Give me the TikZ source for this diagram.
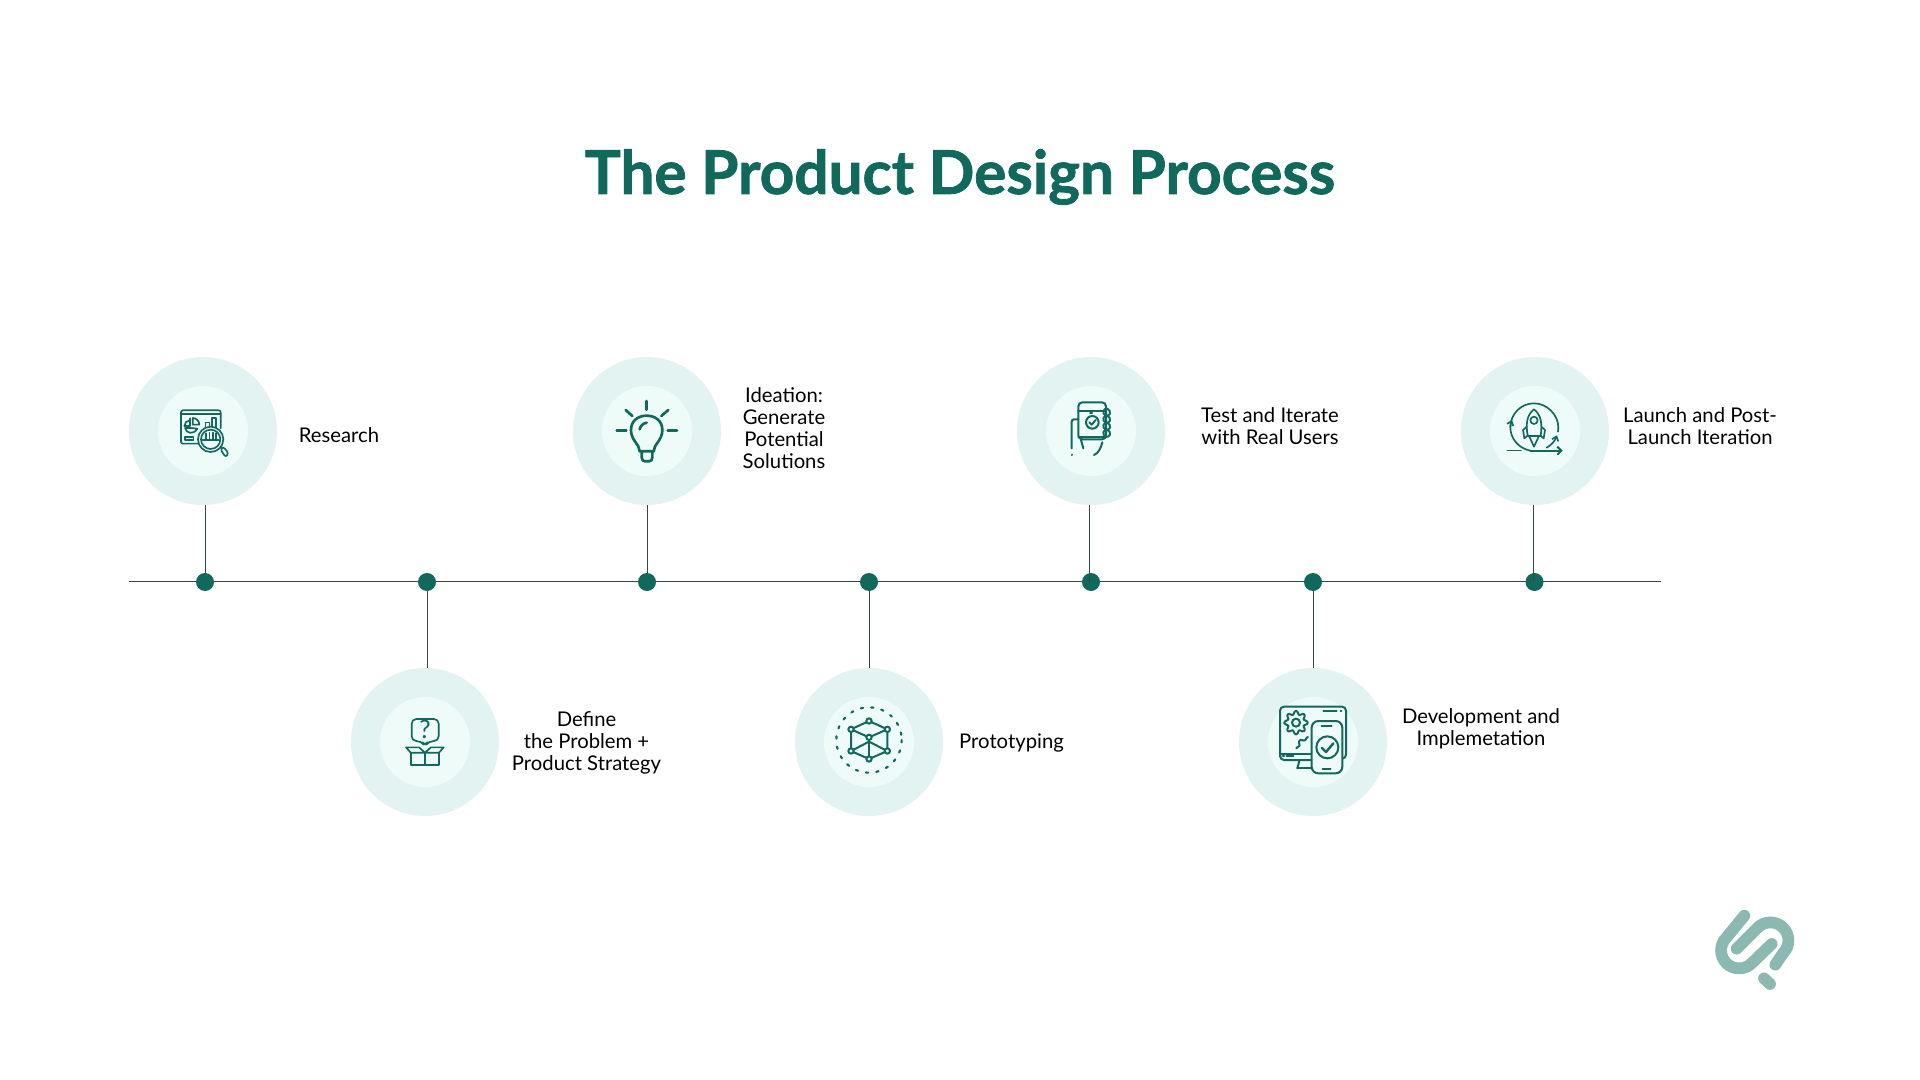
\documentclass[tikz,border=0pt]{standalone}
\usepackage{fontspec}
\setmainfont{Lato}
\newfontfamily\titlefont[BoldFeatures={FakeBold=1.3}]{Lato}
\usetikzlibrary{arrows.meta}
\definecolor{tealdark}{HTML}{11695C}
\definecolor{ringout}{HTML}{E3F3F1}
\definecolor{ringin}{HTML}{EFFBF9}
\definecolor{logoteal}{HTML}{8BB8B0}
\definecolor{linegrey}{HTML}{3A4442}
\tikzset{
  outerring/.style={circle,fill=ringout,minimum size=111pt,inner sep=0pt},
  innerring/.style={circle,fill=ringin,minimum size=67.5pt,inner sep=0pt},
  tickdot/.style={circle,fill=tealdark,minimum size=13.5pt,inner sep=0pt},
  timeline/.style={draw=linegrey,line width=0.7pt},
  stemline/.style={draw=linegrey,line width=0.7pt},
  steplabel/.style={align=center,inner sep=0pt,font=\fontsize{15.2}{16.5}\selectfont},
  icon/.style={draw=tealdark,line width=1.25pt,line cap=round,line join=round},
  iconthick/.style={draw=tealdark,line width=2pt,line cap=round,line join=round},
  logostroke/.style={draw=logoteal,line width=8.8pt,line cap=round,line join=round},
}
\begin{document}
\begin{tikzpicture}[x=0.75pt,y=0.75pt,yscale=-1,xscale=1]
\useasboundingbox (0,0) rectangle (1920,1080);
\fill[white] (0,0) rectangle (1920,1080);
\node[inner sep=0pt,text=tealdark,font=\fontsize{45.2}{50}\selectfont\titlefont\bfseries] (title) at (960,177) {The Product Design Process};
% timeline
\coordinate (linestart) at (129,581.5);
\coordinate (lineend) at (1661,581.5);
\draw[timeline] (linestart) -- (lineend);
% rings
\node[outerring] (research) at (203,431) {};
\node[outerring] (define) at (425,742) {};
\node[outerring] (ideation) at (647,431) {};
\node[outerring] (prototyping) at (869,742) {};
\node[outerring] (testing) at (1091,431) {};
\node[outerring] (development) at (1313,742) {};
\node[outerring] (launch) at (1535,431) {};
\node[innerring] (researchin) at (research) {};
\node[innerring] (definein) at (define) {};
\node[innerring] (ideationin) at (ideation) {};
\node[innerring] (prototypingin) at (prototyping) {};
\node[innerring] (testingin) at (testing) {};
\node[innerring] (developmentin) at (development) {};
\node[innerring] (launchin) at (launch) {};
% dots
\node[tickdot] (dotresearch) at (205,582) {};
\node[tickdot] (dotdefine) at (427,582) {};
\node[tickdot] (dotideation) at (647,582) {};
\node[tickdot] (dotprototyping) at (869,582) {};
\node[tickdot] (dottesting) at (1091,582) {};
\node[tickdot] (dotdevelopment) at (1313,582) {};
\node[tickdot] (dotlaunch) at (1534.5,582) {};
\coordinate (teststem) at (1089.5,582);
\coordinate (launchstem) at (1533.5,582);
\draw[stemline] (dotresearch) -- (dotresearch |- research.south);
\draw[stemline] (dotdefine) -- (dotdefine |- define.north);
\draw[stemline] (dotideation) -- (dotideation |- ideation.south);
\draw[stemline] (dotprototyping) -- (dotprototyping |- prototyping.north);
\draw[stemline] (teststem) -- (teststem |- testing.south);
\draw[stemline] (dotdevelopment) -- (dotdevelopment |- development.north);
\draw[stemline] (launchstem) -- (launchstem |- launch.south);
% labels
\node[steplabel] (researchtext) at (339,435) {Research};
\node[steplabel] (definetext) at (586.5,743) {Define\\the Problem +\\Product Strategy};
\node[steplabel] (ideationtext) at (784,428) {Ideation:\\Generate\\Potential\\Solutions};
\node[steplabel] (prototypingtext) at (1011.5,743) {Prototyping};
\node[steplabel] (testingtext) at (1270,426) {Test and Iterate\\with Real Users};
\node[steplabel] (developmenttext) at (1481,729) {Development and\\Implemetation};
\node[steplabel] (launchtext) at (1700,426.5) {Launch and Post-\\Launch Iteration};
% research icon
\begin{scope}[shift={(120,350)},scale=1/3]
\draw[icon,rounded corners=1.5pt] (236,281) -- (183,281) -- (183,181) -- (302,181) -- (302,235);
\draw[icon] (183,192) -- (302,192);
\draw[icon] (210,205) -- (210,228) -- (193,228) arc[start angle=180,end angle=270,radius=17] -- cycle;
\draw[icon] (218,204) arc[start angle=-90,end angle=0,radius=20] -- (218,224) -- cycle;
\draw[icon] (195,234) .. controls (198,250) and (220,256) .. (232,236) -- (212,234) -- cycle;
\draw[icon] (195,262) rectangle (220,271);
\draw[icon] (256,238) -- (256,218) -- (268,218) -- (268,232);
\draw[icon] (275,230) -- (275,205) -- (287,205) -- (287,232);
\draw[icon,fill=ringin] (272,268) circle (38);
\draw[icon] (272,268) circle (29);
\draw[icon] (258,250) -- (258,270) (268,248) -- (268,270) (278,248) -- (278,270) (288,250) -- (288,270);
\draw[icon] (248,270) -- (296,270);
\draw[icon,rounded corners=2pt] (301,297) -- (310,290) -- (326,310) -- (317,322) -- cycle;
\end{scope}
% define icon
\begin{scope}[shift={(345,660)},scale=1/3]
\draw[icon,rounded corners=3.5pt] (240,258) -- (228,243) -- (200,243) -- (200,177) -- (281,177) -- (281,243) -- (252,243) -- cycle;
\node[inner sep=0pt,text=tealdark,font=\fontsize{19}{19}\selectfont] (definemark) at (240,209) {?};
\draw[icon] (197,278) -- (197,315) -- (282,315) -- (282,278);
\draw[icon] (240,278) -- (240,315);
\draw[icon] (197,278) -- (183,262) -- (222,262) -- (240,278) -- (258,262) -- (296,262) -- (282,278) -- cycle;
\end{scope}
% ideation icon
\begin{scope}[shift={(565,350)},scale=1/3]
\draw[iconthick] (224,304) .. controls (224,282) and (198,272) .. (198,240) .. controls (198,212) and (220,197) .. (245,197) .. controls (270,197) and (292,212) .. (292,240) .. controls (292,272) and (266,282) .. (266,304) -- cycle;
\draw[iconthick] (230,306) -- (230,322) .. controls (230,330) and (235,334) .. (240,334) -- (252,334) .. controls (258,334) and (262,330) .. (262,322) -- (262,306);
\draw[iconthick] (224,238) .. controls (226,228) and (234,220) .. (245,218);
\draw[iconthick] (245,153) -- (245,179);
\draw[iconthick] (155,242) -- (184,242);
\draw[iconthick] (308,242) -- (336,242);
\draw[iconthick] (182,180) -- (202,198);
\draw[iconthick] (310,180) -- (289,198);
\end{scope}
% prototyping icon
\begin{scope}[shift={(795,660)},scale=1/3]
\draw[icon,line width=1.6pt,dash pattern=on 1.8pt off 6pt] (222,240) circle (98);
\draw[icon,line width=1.5pt] (222,183) -- (168,208) -- (222,232) -- (277,208) -- cycle;
\draw[icon,line width=1.5pt] (168,208) -- (168,273) -- (222,297) -- (277,273) -- (277,208);
\draw[icon,line width=1.5pt] (222,232) -- (222,297);
\draw[icon,line width=1.5pt] (168,273) -- (222,245) -- (277,273);
\foreach \px/\py in {222/183,168/208,277/208,222/232,168/273,277/273,222/297}
  \draw[icon,line width=1.5pt,fill=ringin] (\px,\py) circle (8);
\end{scope}
% testing icon
\begin{scope}[shift={(1010,350)},scale=1/3]
\draw[icon,line width=1.5pt,rounded corners=3pt] (205,157) rectangle (288,268);
\draw[icon,line width=1.5pt] (205,183) -- (288,183);
\draw[icon,line width=1.5pt] (205,262) -- (288,262);
\draw[icon,line width=1.5pt] (240,189) -- (246,189);
\draw[icon,line width=1.5pt] (247,217) circle (19);
\draw[icon,line width=1.5pt] (238,217) -- (245,224) -- (257,210);
\foreach \py in {187,208,229,250}
  \draw[icon,line width=1.5pt,rotate around={-25:(290,\py)}] (290,\py) ellipse (10 and 11);
\draw[icon,line width=1.5pt] (205,208) -- (192,208) .. controls (187,208) and (185,211) .. (185,216) -- (185,295);
\draw[icon,line width=1.5pt] (185,314) -- (185,315);
\draw[icon,line width=1.5pt] (213,270) -- (220,295);
\draw[icon,line width=1.5pt] (277,277) .. controls (272,295) and (265,310) .. (252,315);
\end{scope}
% development icon
\begin{scope}[shift={(1240,660)},scale=1/3]
\draw[icon,line width=1.5pt,rounded corners=3pt] (215,300) -- (120,300) -- (120,140) -- (318,140) -- (318,296) -- (307,296);
\draw[icon,line width=1.5pt] (120,282) -- (215,282);
\draw[icon,line width=1.5pt] (172,325) -- (215,325);
\draw[icon,line width=1.5pt] (178,302) -- (172,325);
\draw[icon,line width=1.5pt] (250,153) -- (290,153) (302,153) -- (304,153);
\draw[icon,line width=1.5pt] (140,288) -- (160,288) (128,288) -- (132,288);
\draw[icon,line width=1.5pt] (168,188) circle (12);
\draw[icon,line width=1.5pt,smooth,samples=97] plot[domain=0:360] ({168+(30+5*cos(8*\x))*cos(\x)},{188+(30+5*cos(8*\x))*sin(\x)});
\draw[icon,line width=1.5pt,smooth,samples=33] plot[domain=185:268] ({205+(33+4*cos(8*\x))*cos(\x)},{268+(33+4*cos(8*\x))*sin(\x)});
\draw[icon,line width=1.5pt,fill=ringin,rounded corners=5pt] (215,183) rectangle (307,340);
\draw[icon,line width=1.5pt] (245,198) -- (275,198);
\draw[icon,line width=1.5pt] (248,328) -- (272,328);
\draw[icon,line width=1.5pt] (262,262) circle (33);
\draw[icon,line width=1.8pt] (246,264) -- (258,276) -- (280,250);
\end{scope}
% launch icon
\begin{scope}[shift={(1455,350)},scale=1/3]
\draw[icon] (237,178) .. controls (215,195) and (212,222) .. (218,258) -- (257,258) .. controls (262,222) and (259,195) .. (237,178) -- cycle;
\draw[icon] (237,211) circle (11);
\draw[icon] (215,230) -- (204,240) -- (208,265) -- (219,256);
\draw[icon] (259,230) -- (270,240) -- (266,265) -- (255,256);
\draw[icon] (223,260) -- (237,290) -- (251,260);
\draw[icon] (226,302) .. controls (190,295) and (166,265) .. (166,232) .. controls (166,192) and (198,160) .. (237,160) .. controls (276,160) and (310,195) .. (310,232) -- (309,245);
\draw[icon,-{Straight Barb[length=3pt,width=5pt]}] (275,293) .. controls (290,285) and (300,272) .. (306,256);
\draw[icon,-{Straight Barb[length=3pt,width=5pt]}] (166,232) .. controls (166,225) and (168,218) .. (171,210);
\draw[icon] (157,302) -- (198,302);
\draw[icon,line width=1.5pt,-{Straight Barb[length=3pt,width=6pt]}] (226,302) -- (323,302);
\end{scope}
% logo
\begin{scope}[shift={(1690,890)},scale=1/3]
\draw[logostroke] (163,77) -- (109,143) arc[start angle=225,end angle=45,radius=54] -- (245,162);
\draw[logostroke] (140,176) -- (203,113) arc[start angle=225,end angle=405,radius=54] -- (256,224);
\draw[logostroke] (222,265) -- (240,282);
\end{scope}
\end{tikzpicture}
\end{document}
